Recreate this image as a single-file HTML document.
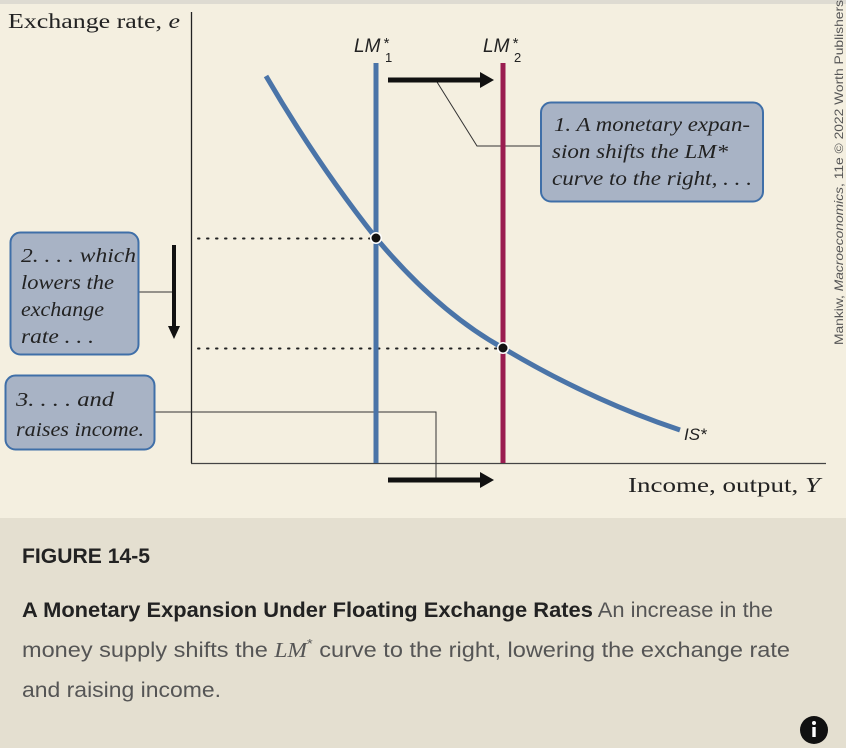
<!DOCTYPE html>
<html><head><meta charset="utf-8"><style>
html,body{margin:0;padding:0;background:#e4dfd0;}
svg{display:block}
</style></head><body>
<svg width="846" height="748" viewBox="0 0 846 748" xmlns="http://www.w3.org/2000/svg">
<rect x="0" y="0" width="846" height="748" fill="#e4dfd0"/>
<rect x="0" y="0" width="846" height="4" fill="#dedbd2"/>
<rect x="0" y="4" width="846" height="514" fill="#f4efe0"/>
<!-- axes -->
<line x1="191.5" y1="12" x2="191.5" y2="463" stroke="#222" stroke-width="1.3"/>
<line x1="191" y1="463.5" x2="826" y2="463.5" stroke="#444" stroke-width="1.3"/>
<text x="8" y="28" font-family="Liberation Serif, serif" font-size="21" fill="#222" textLength="172" lengthAdjust="spacingAndGlyphs">Exchange rate, <tspan font-style="italic">e</tspan></text>
<text x="628" y="492" font-family="Liberation Serif, serif" font-size="21" fill="#222" textLength="192" lengthAdjust="spacingAndGlyphs">Income, output, <tspan font-style="italic">Y</tspan></text>
<!-- dotted -->
<line x1="198" y1="238.5" x2="374" y2="238.5" stroke="#222" stroke-width="2" stroke-dasharray="1.5 7.5" stroke-linecap="round"/>
<line x1="198" y1="348.5" x2="500" y2="348.5" stroke="#222" stroke-width="2" stroke-dasharray="1.5 7.5" stroke-linecap="round"/>
<!-- leader lines -->
<polyline points="540,146 477,146 437,82" fill="none" stroke="#333" stroke-width="1"/>
<polyline points="139,292 174,292" fill="none" stroke="#333" stroke-width="1"/>
<polyline points="155,412 436,412 436,480" fill="none" stroke="#333" stroke-width="1"/>
<!-- LM lines -->
<line x1="376" y1="63" x2="376" y2="463" stroke="#4a74a8" stroke-width="5"/>
<line x1="503" y1="63" x2="503" y2="463" stroke="#9a1d50" stroke-width="5"/>
<!-- IS curve -->
<path d="M266,76 Q318,165 376,238 Q438,312 503,348 Q590,400 680,430" fill="none" stroke="#4a74a8" stroke-width="5"/>
<circle cx="376" cy="238" r="6" fill="#fff"/><circle cx="376" cy="238" r="4.5" fill="#111"/>
<circle cx="503" cy="348" r="6" fill="#fff"/><circle cx="503" cy="348" r="4.5" fill="#111"/>
<text x="684" y="440" font-family="Liberation Sans, sans-serif" font-style="italic" font-size="17" fill="#222">IS*</text>
<!-- LM labels -->
<text x="354" y="52" font-family="Liberation Sans, sans-serif" font-style="italic" font-size="19" fill="#222">LM</text>
<text x="383" y="48" font-family="Liberation Sans, sans-serif" font-style="italic" font-size="15" fill="#222">*</text>
<text x="385" y="62" font-family="Liberation Sans, sans-serif" font-size="13" fill="#222">1</text>
<text x="483" y="52" font-family="Liberation Sans, sans-serif" font-style="italic" font-size="19" fill="#222">LM</text>
<text x="512" y="48" font-family="Liberation Sans, sans-serif" font-style="italic" font-size="15" fill="#222">*</text>
<text x="514" y="62" font-family="Liberation Sans, sans-serif" font-size="13" fill="#222">2</text>
<!-- arrows -->
<line x1="388" y1="80" x2="482" y2="80" stroke="#111" stroke-width="5"/>
<polygon points="480,72 494,80 480,88" fill="#111"/>
<line x1="388" y1="480" x2="482" y2="480" stroke="#111" stroke-width="5"/>
<polygon points="480,472 494,480 480,488" fill="#111"/>
<line x1="174" y1="245" x2="174" y2="328" stroke="#111" stroke-width="4"/>
<polygon points="168,326 174,339 180,326" fill="#111"/>
<!-- boxes -->
<g font-family="Liberation Serif, serif" font-style="italic" font-size="20" fill="#222">
<rect x="541" y="102.5" width="222" height="99" rx="10" fill="#a8b3c5" stroke="#3f6fa8" stroke-width="2"/>
<text x="554" y="131" textLength="196" lengthAdjust="spacingAndGlyphs">1. A monetary expan-</text>
<text x="552" y="158" textLength="176" lengthAdjust="spacingAndGlyphs">sion shifts the LM*</text>
<text x="552" y="185" textLength="200" lengthAdjust="spacingAndGlyphs">curve to the right, . . .</text>
<rect x="10.5" y="232.5" width="128" height="122" rx="10" fill="#a8b3c5" stroke="#3f6fa8" stroke-width="2"/>
<text x="21" y="262" textLength="115" lengthAdjust="spacingAndGlyphs">2. . . . which</text>
<text x="21" y="289" textLength="93" lengthAdjust="spacingAndGlyphs">lowers the</text>
<text x="21" y="316" textLength="83" lengthAdjust="spacingAndGlyphs">exchange</text>
<text x="21" y="343" textLength="73" lengthAdjust="spacingAndGlyphs">rate . . .</text>
<rect x="5.5" y="375.5" width="149" height="74" rx="10" fill="#a8b3c5" stroke="#3f6fa8" stroke-width="2"/>
<text x="16" y="406" textLength="98" lengthAdjust="spacingAndGlyphs">3. . . . and</text>
<text x="16" y="436" textLength="128" lengthAdjust="spacingAndGlyphs">raises income.</text>
</g>
<!-- copyright -->
<text transform="translate(843,345) rotate(-90)" font-family="Liberation Sans, sans-serif" font-size="12" fill="#555" textLength="345" lengthAdjust="spacingAndGlyphs">Mankiw, <tspan font-style="italic">Macroeconomics</tspan>, 11e © 2022 Worth Publishers</text>
<!-- caption -->
<text x="22" y="563" font-family="Liberation Sans, sans-serif" font-size="21" font-weight="bold" fill="#222" textLength="128" lengthAdjust="spacingAndGlyphs">FIGURE 14-5</text>
<text x="22" y="617" font-family="Liberation Sans, sans-serif" font-size="21" fill="#555" textLength="751" lengthAdjust="spacingAndGlyphs"><tspan font-weight="bold" fill="#222">A Monetary Expansion Under Floating Exchange Rates</tspan> An increase in the</text>
<text x="22" y="657" font-family="Liberation Sans, sans-serif" font-size="21" fill="#555" textLength="768" lengthAdjust="spacingAndGlyphs">money supply shifts the <tspan font-family="Liberation Serif, serif" font-style="italic">LM</tspan><tspan dy="-9" font-size="13">*</tspan><tspan dy="9"> curve to the right, lowering the exchange rate</tspan></text>
<text x="22" y="697" font-family="Liberation Sans, sans-serif" font-size="21" fill="#555" textLength="199" lengthAdjust="spacingAndGlyphs">and raising income.</text>
<circle cx="814" cy="730" r="14" fill="#111"/>
<circle cx="814" cy="723" r="2" fill="#fff"/>
<rect x="812.3" y="727" width="3.4" height="10" fill="#fff"/>
</svg>
</body></html>
